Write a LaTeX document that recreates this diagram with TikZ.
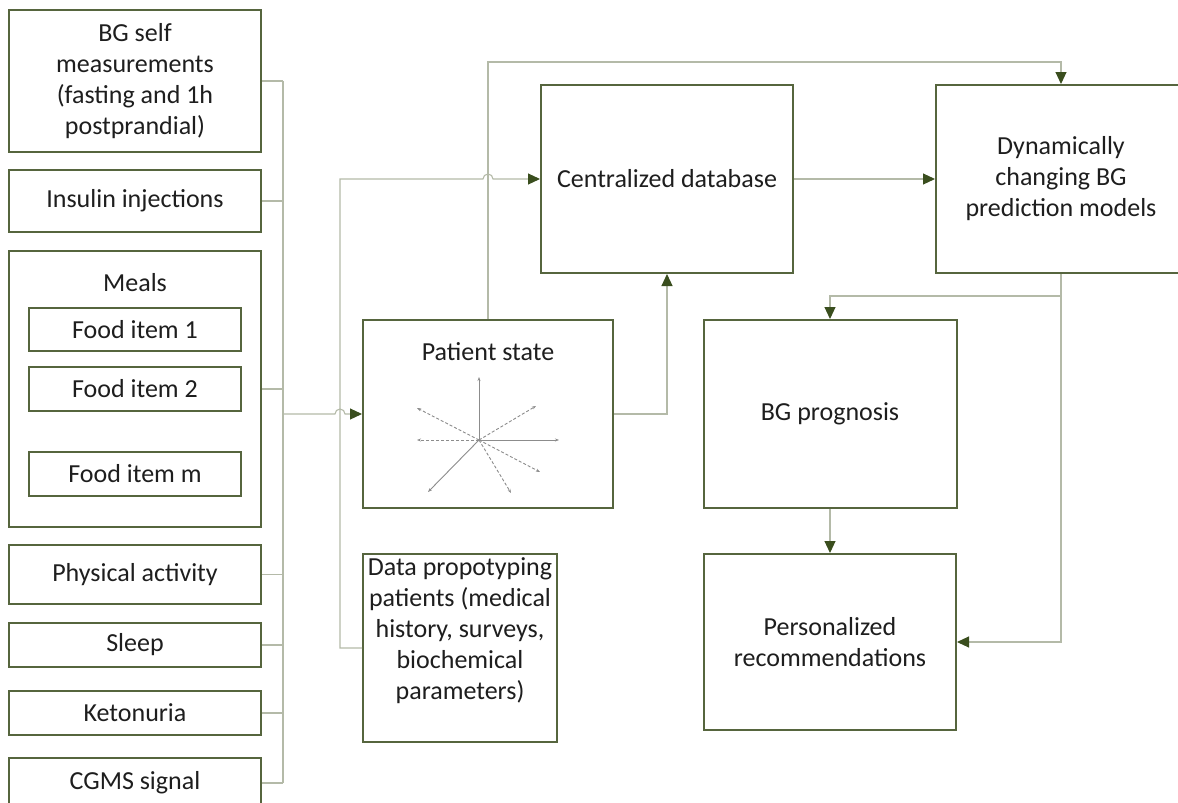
\documentclass[tikz,border=0pt]{standalone}
\usepackage{fontspec}
\setmainfont{Carlito}
\usetikzlibrary{arrows.meta,calc}
\definecolor{boxgreen}{RGB}{86,101,62}
\definecolor{tipgreen}{RGB}{58,78,30}
\definecolor{conncol}{RGB}{180,186,168}
\definecolor{stargray}{RGB}{140,140,140}
\definecolor{txtcol}{RGB}{30,30,30}
\begin{document}
\begin{tikzpicture}[x=1pt,y=-1pt,
  box/.style={draw=boxgreen,line width=2pt,fill=white,inner sep=2pt,align=center,
    text=txtcol,font=\fontsize{26}{31}\selectfont},
  lbl/.style={inner sep=0pt,align=center,text=txtcol,font=\fontsize{26}{31}\selectfont},
  wire/.style={draw=conncol,line width=1.1pt},
  arw/.style={wire,-{Triangle[length=12pt,width=11pt,color=tipgreen]}},
  starsolid/.style={draw=stargray,line width=0.9pt,-{Stealth[length=4pt,width=3pt]}},
  stardash/.style={starsolid,dash pattern=on 3pt off 2pt}]
\useasboundingbox (0,0) rectangle (1178,803);
% left column
\node[box,minimum width=252pt,minimum height=142pt] (bg) at (135,81) {BG self\\measurements\\(fasting and 1h\\postprandial)};
\node[box,minimum width=252pt,minimum height=62pt] (ins) at (135,201) {Insulin injections};
\node[box,minimum width=252pt,minimum height=276pt] (meals) at (135,389) {};
\node[lbl] (mealslbl) at (135,283) {Meals};
\node[box,minimum width=212pt,minimum height=43pt] (f1) at (135,329.5) {Food item 1};
\node[box,minimum width=212pt,minimum height=44pt] (f2) at (135,389) {Food item 2};
\node[box,minimum width=212pt,minimum height=44pt] (fm) at (135,474) {Food item m};
\node[box,minimum width=252pt,minimum height=59pt] (phys) at (135,574.5) {Physical activity};
\node[box,minimum width=252pt,minimum height=44pt] (sleep) at (135,645) {Sleep};
\node[box,minimum width=252pt,minimum height=44pt] (keto) at (135,713) {Ketonuria};
\node[box,minimum width=252pt,minimum height=50pt] (cgms) at (135,783) {CGMS signal};
% middle
\node[box,minimum width=250pt,minimum height=188pt] (ps) at (488,414) {};
\node[lbl] (pslbl) at (488,352) {Patient state};
\node[box,minimum width=194pt,minimum height=188pt] (dp) at (460,648) {};
\node[lbl] (dplbl) at (460,631) {Data propotyping\\patients (medical\\history, surveys,\\biochemical\\parameters)};
\node[box,minimum width=252pt,minimum height=188pt] (cd) at (667,179) {Centralized database};
\node[box,minimum width=250pt,minimum height=188pt] (dyn) at (1061,179) {Dynamically\\changing BG\\prediction models};
\node[box,minimum width=253pt,minimum height=188pt] (bgp) at (830,414) {BG prognosis};
\node[box,minimum width=252pt,minimum height=176pt] (pr) at (830,642) {Personalized\\recommendations};
% star inside patient state
\coordinate (sc) at (479,440);
\draw[starsolid] (sc) -- (479,377);
\draw[starsolid] (sc) -- (559,440);
\draw[starsolid] (sc) -- (428,492);
\draw[stardash] (sc) -- (417,408);
\draw[stardash] (sc) -- (417,440);
\draw[stardash] (sc) -- (536,406);
\draw[stardash] (sc) -- (540,472);
\draw[stardash] (sc) -- (511,493);
% bus
\coordinate (busT) at (283,81);
\coordinate (busB) at (283,783);
\draw[wire] (busT) -- (busB);
\foreach \n in {bg,ins,meals,phys,sleep,keto,cgms}
  \draw[wire] (\n.east) -- (\n.east -| busT);
% data prototyping line
\coordinate (dpL) at (340,648);
\coordinate (dpT) at (340,179);
\draw[arw] (dp.west) -- (dpL) -- (dpT) -- ($(dpT -| ps.north)+(-5,0)$) arc[start angle=180,end angle=360,radius=5] -- (cd.west);
% main input line
\draw[arw] (busT |- ps.west) -- ($(dpL |- ps.west)+(-5,0)$) arc[start angle=180,end angle=360,radius=5] -- (ps.west);
% patient state outputs
\coordinate (topL) at (488,62);
\draw[arw] (ps.north) -- (topL) -| (dyn.north);
\draw[arw] (ps.east) -| (cd.south);
\draw[arw] (cd.east) -- (dyn.west);
% model outputs
\draw[arw] (dyn.south) |- (pr.east);
\coordinate (br) at (1061,296);
\draw[arw] (br) -| (bgp.north);
\draw[arw] (bgp.south) -- (pr.north);
\end{tikzpicture}
\end{document}
